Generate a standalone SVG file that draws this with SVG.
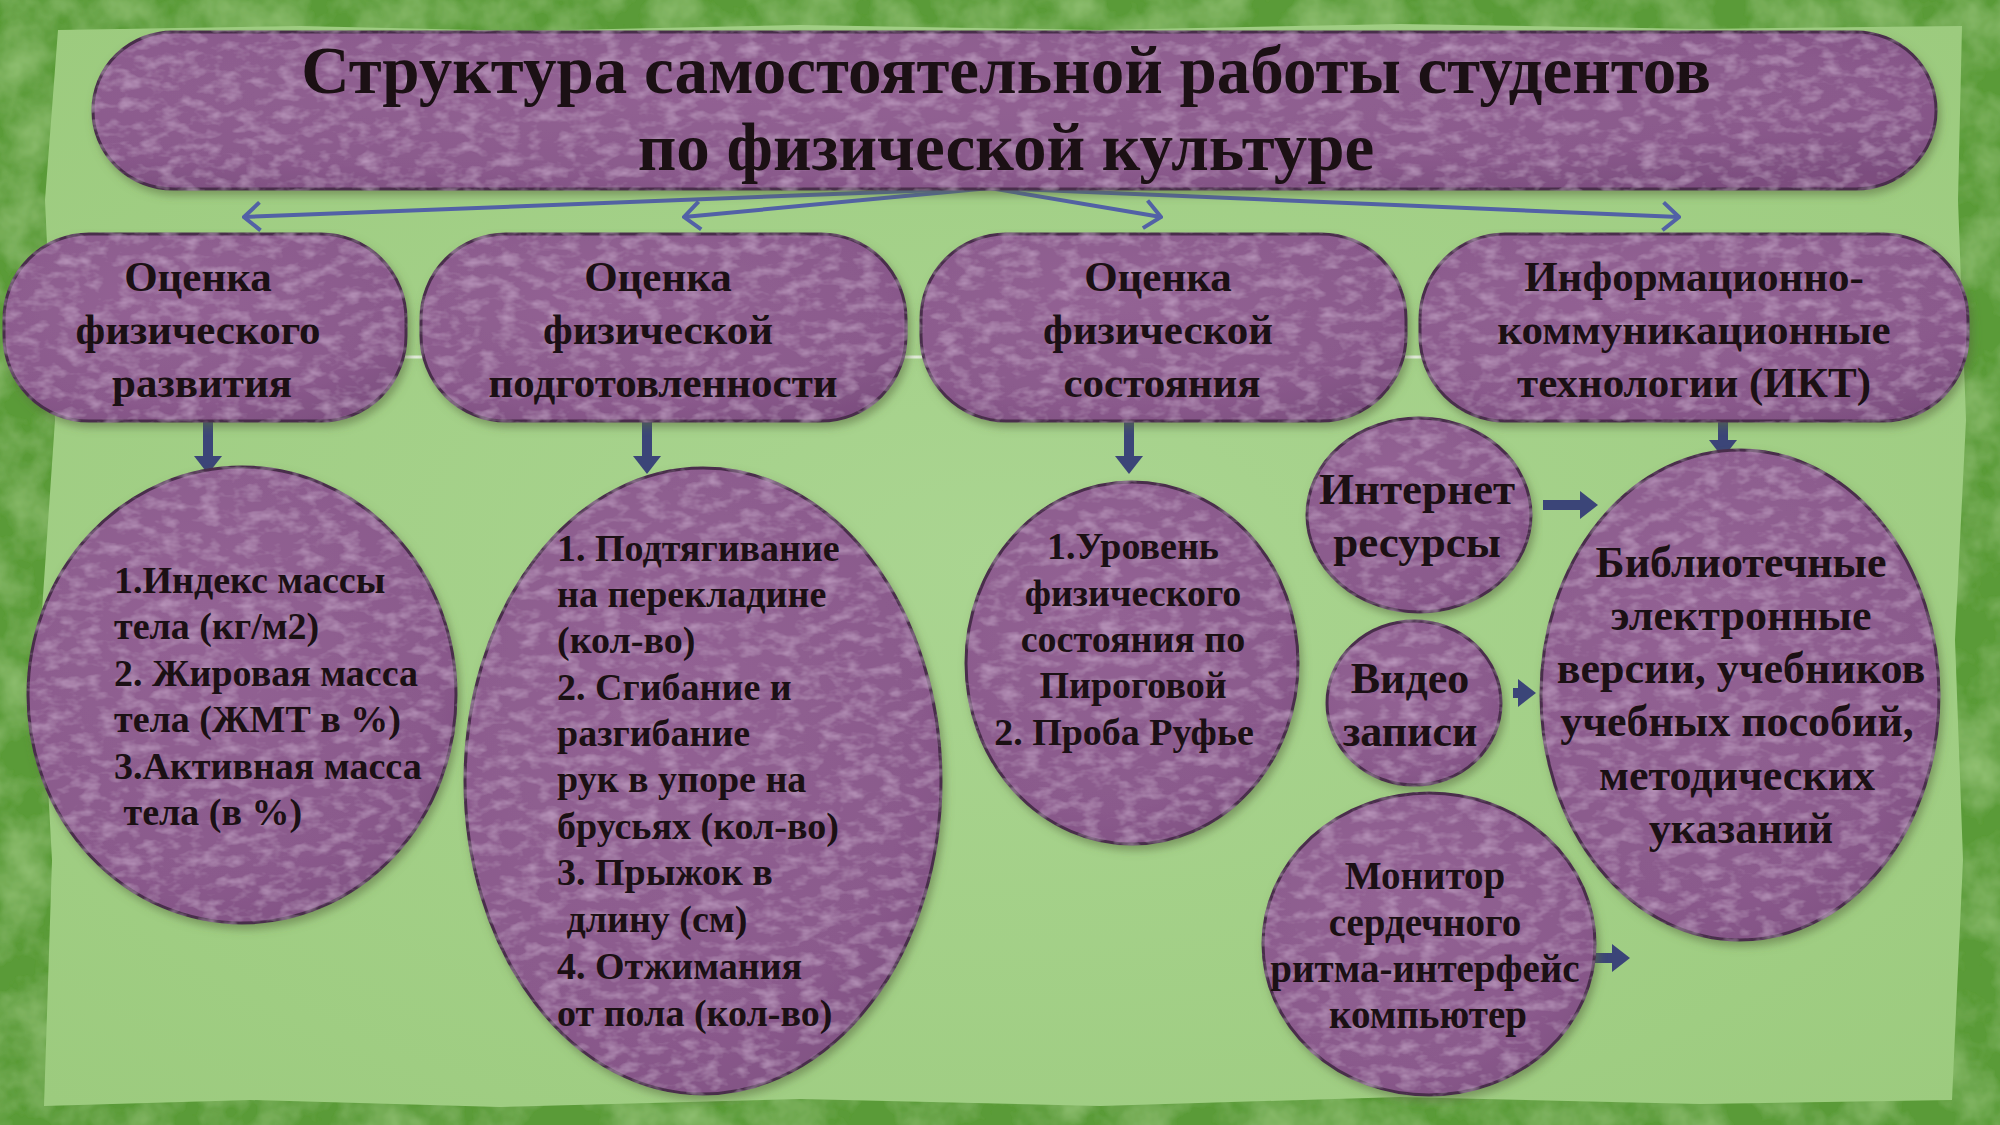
<svg xmlns="http://www.w3.org/2000/svg" width="2000" height="1125" viewBox="0 0 2000 1125">
<defs>
<style>
.t{font-family:"Liberation Serif","Times New Roman",serif;font-weight:bold;fill:#1b1014;}
.c{text-anchor:middle;}
.shape{fill:url(#pg);stroke:#4a2e4c;stroke-width:3;filter:url(#tex);}
.conn{fill:none;stroke:#5261a6;stroke-width:4;marker-end:url(#open);}
.blk{fill:none;stroke:#3b4578;stroke-width:10;marker-end:url(#tri);}
</style>
<radialGradient id="pg" cx="0.4" cy="0.35" r="0.8">
<stop offset="0" stop-color="#936394"/>
<stop offset="0.7" stop-color="#8a5a8c"/>
<stop offset="1" stop-color="#7b4d7e"/>
</radialGradient>
<radialGradient id="paper" cx="0.5" cy="0.5" r="0.7">
<stop offset="0" stop-color="#aad591"/>
<stop offset="1" stop-color="#9ccb7e"/>
</radialGradient>
<filter id="tex" x="-5%" y="-5%" width="110%" height="115%">
<feTurbulence type="fractalNoise" baseFrequency="0.05 0.09" numOctaves="3" seed="7" result="n"/>
<feColorMatrix in="n" type="matrix" values="0 0 0 0 0.68  0 0 0 0 0.48  0 0 0 0 0.7  0 0 0 1.0 -0.45" result="spots"/>
<feComposite in="spots" in2="SourceGraphic" operator="in" result="s2"/>
<feGaussianBlur in="SourceAlpha" stdDeviation="4" result="b"/>
<feOffset in="b" dx="3" dy="5" result="ob"/>
<feColorMatrix in="ob" type="matrix" values="0 0 0 0 0.1  0 0 0 0 0.15  0 0 0 0 0.05  0 0 0 0.55 0" result="sh"/>
<feMerge><feMergeNode in="sh"/><feMergeNode in="SourceGraphic"/><feMergeNode in="s2"/></feMerge>
</filter>
<filter id="grain" x="0" y="0" width="100%" height="100%">
<feTurbulence type="fractalNoise" baseFrequency="0.02" numOctaves="4" seed="3" result="n"/>
<feColorMatrix in="n" type="matrix" values="0 0 0 0 0.3  0 0 0 0 0.55  0 0 0 0 0.18  0 0 0 1.6 -0.6" result="g"/>
<feComposite in="g" in2="SourceGraphic" operator="in" result="g2"/>
<feMerge><feMergeNode in="SourceGraphic"/><feMergeNode in="g2"/></feMerge>
</filter>
<marker id="open" markerUnits="userSpaceOnUse" viewBox="0 0 20 32" markerWidth="20" markerHeight="32" refX="18" refY="16" orient="auto">
<path d="M2,2 L18,16 L2,30" fill="none" stroke="#5261a6" stroke-width="4"/>
</marker>
<marker id="tri" markerUnits="userSpaceOnUse" viewBox="0 0 18 28" markerWidth="18" markerHeight="28" refX="0" refY="14" orient="auto">
<path d="M0,0 L18,14 L0,28 z" fill="#3b4578"/>
</marker>
</defs>

<!-- background -->
<rect x="0" y="0" width="2000" height="1125" fill="#5a9b37" filter="url(#grain)"/>
<path d="M58,30 L300,26 L520,31 L800,25 L1100,30 L1400,24 L1700,29 L1962,26 L1958,200 L1966,420 L1955,640 L1963,860 L1952,1100 L1700,1104 L1400,1097 L1100,1106 L800,1099 L500,1107 L250,1100 L44,1106 L52,860 L40,640 L55,420 L45,200 Z" fill="url(#paper)"/>

<!-- connectors -->
<g id="connectors">
<line x1="400" y1="357" x2="1430" y2="357" stroke="#e6efdf" stroke-width="3"/>
<line class="conn" x1="990" y1="188" x2="244" y2="217"/>
<line class="conn" x1="990" y1="188" x2="684" y2="217"/>
<line class="conn" x1="990" y1="188" x2="1161" y2="217"/>
<line class="conn" x1="990" y1="188" x2="1679" y2="217"/>
<line class="blk" x1="208" y1="421" x2="208" y2="456"/>
<line class="blk" x1="647" y1="421" x2="647" y2="456"/>
<line class="blk" x1="1129" y1="421" x2="1129" y2="456"/>
<line class="blk" x1="1723" y1="421" x2="1723" y2="440"/>
<line class="blk" x1="1543" y1="505" x2="1580" y2="505"/>
<line class="blk" x1="1513" y1="693" x2="1518" y2="693"/>
<line class="blk" x1="1592" y1="958" x2="1612" y2="958"/>
</g>

<!-- title -->
<g id="title">
<rect class="shape" x="93" y="32" width="1843" height="157" rx="80" ry="78"/>
<text class="t c" x="1006" y="93" font-size="67">Структура самостоятельной работы студентов</text>
<text class="t c" x="1006" y="170" font-size="67">по физической культуре</text>
</g>

<g id="box1">
<rect class="shape" x="4" y="234" width="402" height="187" rx="85" ry="85"/>
<text class="t c" font-size="43"><tspan x="198" y="291">Оценка</tspan><tspan x="198" y="344">физического</tspan><tspan x="202" y="397">развития</tspan></text>
</g>
<g id="box2">
<rect class="shape" x="421" y="234" width="485" height="187" rx="85" ry="85"/>
<text class="t c" font-size="43"><tspan x="658" y="291">Оценка</tspan><tspan x="658" y="344">физической</tspan><tspan x="663" y="397">подготовленности</tspan></text>
</g>
<g id="box3">
<rect class="shape" x="921" y="234" width="485" height="187" rx="85" ry="85"/>
<text class="t c" font-size="43"><tspan x="1158" y="291">Оценка</tspan><tspan x="1158" y="344">физической</tspan><tspan x="1162" y="397">состояния</tspan></text>
</g>
<g id="box4">
<rect class="shape" x="1420" y="234" width="548" height="187" rx="85" ry="85"/>
<text class="t c" font-size="43"><tspan x="1694" y="291">Информационно-</tspan><tspan x="1694" y="344">коммуникационные</tspan><tspan x="1694" y="397">технологии (ИКТ)</tspan></text>
</g>

<g id="ell1">
<ellipse class="shape" cx="242" cy="695" rx="214" ry="228"/>
<text class="t" font-size="38" xml:space="preserve"><tspan x="114" y="593">1.Индекс массы</tspan><tspan x="114" y="639">тела (кг/м2)</tspan><tspan x="114" y="686">2. Жировая масса</tspan><tspan x="114" y="732">тела (ЖМТ в %)</tspan><tspan x="114" y="779">3.Активная масса</tspan><tspan x="114" y="825"> тела (в %)</tspan></text>
</g>
<g id="ell2">
<ellipse class="shape" cx="703" cy="781" rx="238" ry="313"/>
<text class="t" font-size="38" xml:space="preserve"><tspan x="557" y="561">1. Подтягивание</tspan><tspan x="557" y="607">на перекладине</tspan><tspan x="557" y="653">(кол-во)</tspan><tspan x="557" y="700">2. Сгибание и</tspan><tspan x="557" y="746">разгибание</tspan><tspan x="557" y="792">рук в упоре на</tspan><tspan x="557" y="839">брусьях (кол-во)</tspan><tspan x="557" y="885">3. Прыжок в</tspan><tspan x="557" y="932"> длину (см)</tspan><tspan x="557" y="979">4. Отжимания</tspan><tspan x="557" y="1026">от пола (кол-во)</tspan></text>
</g>
<g id="ell3">
<ellipse class="shape" cx="1132" cy="663" rx="166" ry="181"/>
<text class="t c" font-size="38"><tspan x="1133" y="559">1.Уровень</tspan><tspan x="1133" y="606">физического</tspan><tspan x="1133" y="652">состояния по</tspan><tspan x="1133" y="698">Пироговой</tspan><tspan x="1124" y="745">2. Проба Руфье</tspan></text>
</g>
<g id="internet">
<ellipse class="shape" cx="1419" cy="515" rx="112" ry="97"/>
<text class="t c" font-size="45"><tspan x="1417" y="504">Интернет</tspan><tspan x="1417" y="557">ресурсы</tspan></text>
</g>
<g id="video">
<ellipse class="shape" cx="1414" cy="703" rx="87" ry="82"/>
<text class="t c" font-size="44"><tspan x="1410" y="693">Видео</tspan><tspan x="1410" y="746">записи</tspan></text>
</g>
<g id="monitor">
<ellipse class="shape" cx="1429" cy="944" rx="166" ry="151"/>
<text class="t c" font-size="39"><tspan x="1425" y="889">Монитор</tspan><tspan x="1425" y="936">сердечного</tspan><tspan x="1425" y="982">ритма-интерфейс</tspan><tspan x="1428" y="1028">компьютер</tspan></text>
</g>
<g id="library">
<ellipse class="shape" cx="1740" cy="695" rx="199" ry="245"/>
<text class="t c" font-size="44"><tspan x="1741" y="577">Библиотечные</tspan><tspan x="1741" y="630">электронные</tspan><tspan x="1741" y="683">версии, учебников</tspan><tspan x="1737" y="736">учебных пособий,</tspan><tspan x="1737" y="790">методических</tspan><tspan x="1741" y="843">указаний</tspan></text>
</g>
</svg>
